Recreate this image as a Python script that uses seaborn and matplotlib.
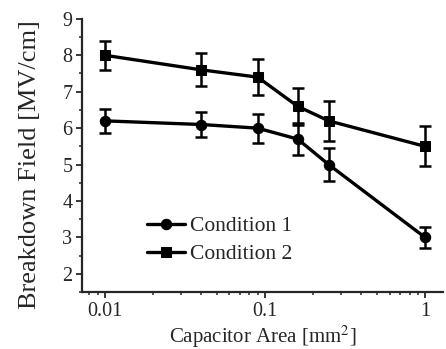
import matplotlib
matplotlib.use("Agg")
import matplotlib.pyplot as plt
import matplotlib.ticker as mticker
import numpy as np
import pandas as pd
import seaborn as sns

# values
area = [0.01, 0.04, 0.09, 0.16, 0.25, 1.0]
cond1 = [6.2, 6.1, 6.0, 5.7, 5.0, 3.0]
cond1_err = [0.33, 0.35, 0.4, 0.45, 0.45, 0.3]
cond2 = [8.0, 7.6, 7.4, 6.6, 6.2, 5.5]
cond2_err = [0.4, 0.45, 0.5, 0.5, 0.55, 0.55]
labels = ["Condition 1", "Condition 2"]

df = pd.DataFrame({
    "area": area * 2,
    "field": cond1 + cond2,
    "err": cond1_err + cond2_err,
    "cond": [labels[0]] * len(area) + [labels[1]] * len(area),
})

sns.set_style("ticks")
plt.rcParams['font.family'] = ['Liberation Serif', 'DejaVu Serif']
plt.rcParams['mathtext.fontset'] = 'stix'

fig = plt.figure(figsize=(4.46, 3.49), dpi=100)
ax = fig.add_axes([0.184, 0.163, 0.81, 0.783])

sns.lineplot(data=df, x="area", y="field", style="cond", markers=["o", "s"],
             dashes=False, color="black", linewidth=2.4, markersize=7.5,
             markeredgecolor="black", ax=ax)

for name in labels:
    d = df[df["cond"] == name]
    ax.errorbar(d["area"], d["field"], yerr=d["err"], fmt="none",
                ecolor="black", elinewidth=1.8, capsize=4, capthick=1.8)

ax.set_xscale("log")
ax.set_xlim(0.0072, 1.3)
ax.set_ylim(1.5, 9)
ax.set_xticks([0.01, 0.1, 1])
ax.xaxis.set_major_formatter(mticker.FuncFormatter(lambda v, p: f"{v:g}"))
ax.xaxis.set_minor_locator(mticker.LogLocator(subs=np.arange(2, 10)))
ax.xaxis.set_minor_formatter(mticker.NullFormatter())
ax.set_yticks(np.arange(2, 10, 1))
ax.yaxis.set_minor_locator(mticker.MultipleLocator(0.5))

ax.tick_params(which="major", direction="out", length=4, width=1.3, labelsize=14.5, pad=3)
ax.tick_params(which="minor", direction="out", length=2.5, width=1.1)
for s in ["left", "bottom"]:
    ax.spines[s].set_linewidth(1.6)
sns.despine(ax=ax)

ax.set_xlabel("Capacitor Area [mm$^2$]", fontsize=15, labelpad=2)
ax.set_ylabel("Breakdown Field [MV/cm]", fontsize=19)
ax.yaxis.set_label_coords(-0.115, 0.465)

leg = ax.legend(loc="center left", bbox_to_anchor=(0.18, 0.19), frameon=False,
                fontsize=15.5, handlelength=1.77, handletextpad=0.2,
                labelspacing=0.38, borderpad=0, borderaxespad=0)

fig.savefig("out.png", dpi=100)
